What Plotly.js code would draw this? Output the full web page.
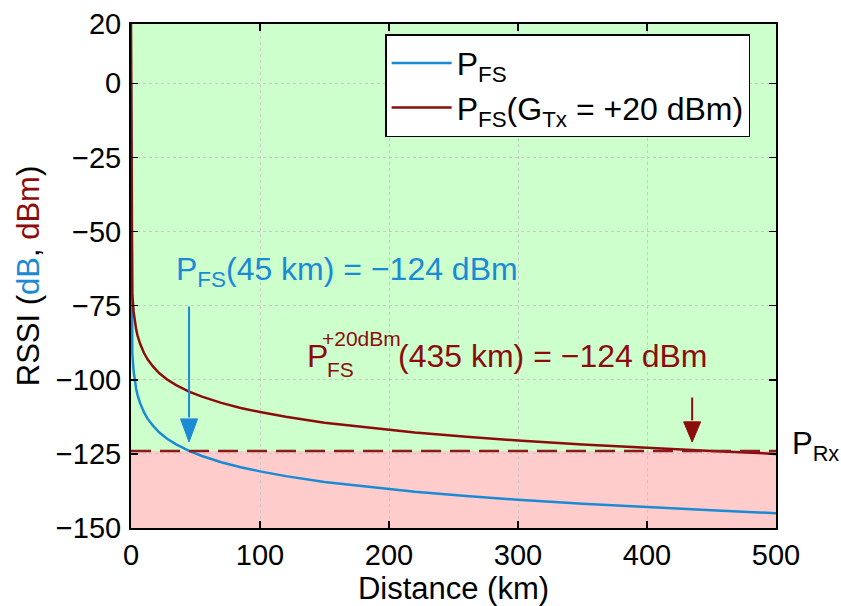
<!DOCTYPE html>
<html>
<head>
<meta charset="utf-8">
<script src="https://cdn.plot.ly/plotly-3.0.1.min.js"></script>
<style>html,body{margin:0;padding:0;background:#fff;}#chart{width:841px;height:606px;}</style>
</head>
<body>
<div id="chart"></div>
<script>
// Distance (km)
const distanceKm = [0, 1, 2, 3, 4, 5, 7, 10, 13, 17, 22, 28, 35, 45, 55, 70, 85, 100, 120, 150, 180, 220, 260, 300, 350, 400, 450, 500];
// Free-space received power P_FS (dBm)
const pFS = [0, -91, -97, -100.5, -103, -105, -107.8, -110.9, -113.2, -115.5, -117.8, -119.9, -121.8, -124, -125.7, -127.8, -129.5, -130.9, -132.5, -134.5, -136, -137.8, -139.2, -140.5, -141.8, -143, -144, -145];
// P_FS with +20 dBm transmit gain
const pFS20 = [20, -71, -77, -80.5, -83, -85, -87.8, -90.9, -93.2, -95.5, -97.8, -99.9, -101.8, -104, -105.7, -107.8, -109.5, -110.9, -112.5, -114.5, -116, -117.8, -119.2, -120.5, -121.8, -123, -124, -125];
// Receiver sensitivity threshold P_Rx (dBm)
const pRx = -124;
const rxLineX = [0, 500];
// Marked distances (km) and arrow extents (dBm)
const markKm = [45, 435];
const arrowTop = [-75.3, -106];
const arrowTip = -121;
// Axis ticks
const yTicks = [-150, -125, -100, -75, -50, -25, 0, 20];
const xTicks = [0, 100, 200, 300, 400, 500];

const BLUE = '#1a8ad4';
const RED = '#8c0c0c';
const FONT = 'Liberation Sans, Arial, Helvetica, sans-serif';

const traces = [
  {x: distanceKm, y: pFS, type: 'scatter', mode: 'lines', name: 'P<sub>FS</sub>',
   line: {color: BLUE, width: 2.5}, legendgroup: 'a'},
  {x: distanceKm, y: pFS20, type: 'scatter', mode: 'lines', name: 'P<sub>FS</sub>(G<sub>Tx</sub> = +20 dBm)',
   line: {color: RED, width: 2.5}, legendgroup: 'b'},
  {x: rxLineX, y: rxLineX.map(() => pRx), type: 'scatter', mode: 'lines', showlegend: false,
   line: {color: '#8b1a1a', width: 2.5, dash: '20px,9px'}, hoverinfo: 'skip'}
];

const headHalfKm = 6.6;
const headLen = [7.8, 6.8];
const arrowColors = [BLUE, RED];
const shapes = [
  {type: 'rect', xref: 'paper', yref: 'y', x0: 0, x1: 1, y0: pRx, y1: 20, fillcolor: '#ccffcc', line: {width: 0}, layer: 'below'},
  {type: 'rect', xref: 'paper', yref: 'y', x0: 0, x1: 1, y0: -150, y1: pRx, fillcolor: '#ffcccc', line: {width: 0}, layer: 'below'}
];
markKm.forEach((k, i) => {
  const base = arrowTip + headLen[i];
  shapes.push({type: 'line', xref: 'x', yref: 'y', x0: k, x1: k, y0: arrowTop[i], y1: base + 0.5,
    line: {color: arrowColors[i], width: 2}});
  shapes.push({type: 'path', xref: 'x', yref: 'y',
    path: `M ${k - headHalfKm} ${base} L ${k + headHalfKm} ${base} L ${k} ${arrowTip} Z`,
    fillcolor: arrowColors[i], line: {color: arrowColors[i], width: 1}});
});

const annotations = [
  {xref: 'x', yref: 'y', x: 33.5, y: -63.5, xanchor: 'left', yanchor: 'middle', showarrow: false,
   text: 'P<sub>FS</sub>(45 km) = −124 dBm', font: {family: FONT, size: 32, color: BLUE}},
  {xref: 'x', yref: 'y', x: 135.1, y: -92, xanchor: 'left', yanchor: 'middle', showarrow: false,
   text: 'P', font: {family: FONT, size: 32, color: RED}},
  {xref: 'x', yref: 'y', x: 146.5, y: -86.1, xanchor: 'left', yanchor: 'middle', showarrow: false,
   text: '+20dBm', font: {family: FONT, size: 21, color: RED}},
  {xref: 'x', yref: 'y', x: 150.6, y: -96.7, xanchor: 'left', yanchor: 'middle', showarrow: false,
   text: 'FS', font: {family: FONT, size: 21, color: RED}},
  {xref: 'x', yref: 'y', x: 205.7, y: -92, xanchor: 'left', yanchor: 'middle', showarrow: false,
   text: '(435 km) = −124 dBm', font: {family: FONT, size: 32, color: RED}},
  {xref: 'paper', yref: 'y', x: 1.022, y: -122.3, xanchor: 'left', yanchor: 'middle', showarrow: false,
   text: 'P<sub>Rx</sub>', font: {family: FONT, size: 31, color: '#000'}}
];

const axisCommon = {
  showline: true, linecolor: '#000', linewidth: 2, mirror: 'ticks',
  ticks: 'inside', ticklen: 7, tickwidth: 1.5, tickcolor: '#000',
  showgrid: true, gridcolor: '#c8c8c8', gridwidth: 1, griddash: 'dot',
  zeroline: false, tickfont: {family: FONT, size: 29, color: '#000'}
};

const layout = {
  width: 841, height: 606,
  margin: {l: 131, r: 65, t: 24, b: 78},
  paper_bgcolor: '#fff', plot_bgcolor: '#fff',
  font: {family: FONT, color: '#000'},
  showlegend: true,
  legend: {x: 0.394, y: 0.98, xanchor: 'left', yanchor: 'top', bgcolor: '#fff',
    bordercolor: '#000', borderwidth: 1.5, font: {family: FONT, size: 32, color: '#000'},
    tracegroupgap: 0, itemwidth: 60},
  xaxis: Object.assign({}, axisCommon, {range: [0, 500], tickvals: xTicks,
    title: {text: 'Distance (km)', font: {family: FONT, size: 31, color: '#000'}, standoff: 4}}),
  yaxis: Object.assign({}, axisCommon, {range: [-150, 20], tickvals: yTicks, ticklabelstandoff: 2,
    title: {text: 'RSSI (<span style="color:' + BLUE + '">dB</span>, <span style="color:' + RED + '">dBm</span>)',
      font: {family: FONT, size: 31, color: '#000'}, standoff: 7}}),
  shapes: shapes,
  annotations: annotations
};

Plotly.newPlot('chart', traces, layout, {displayModeBar: false, staticPlot: true});
</script>
</body>
</html>
